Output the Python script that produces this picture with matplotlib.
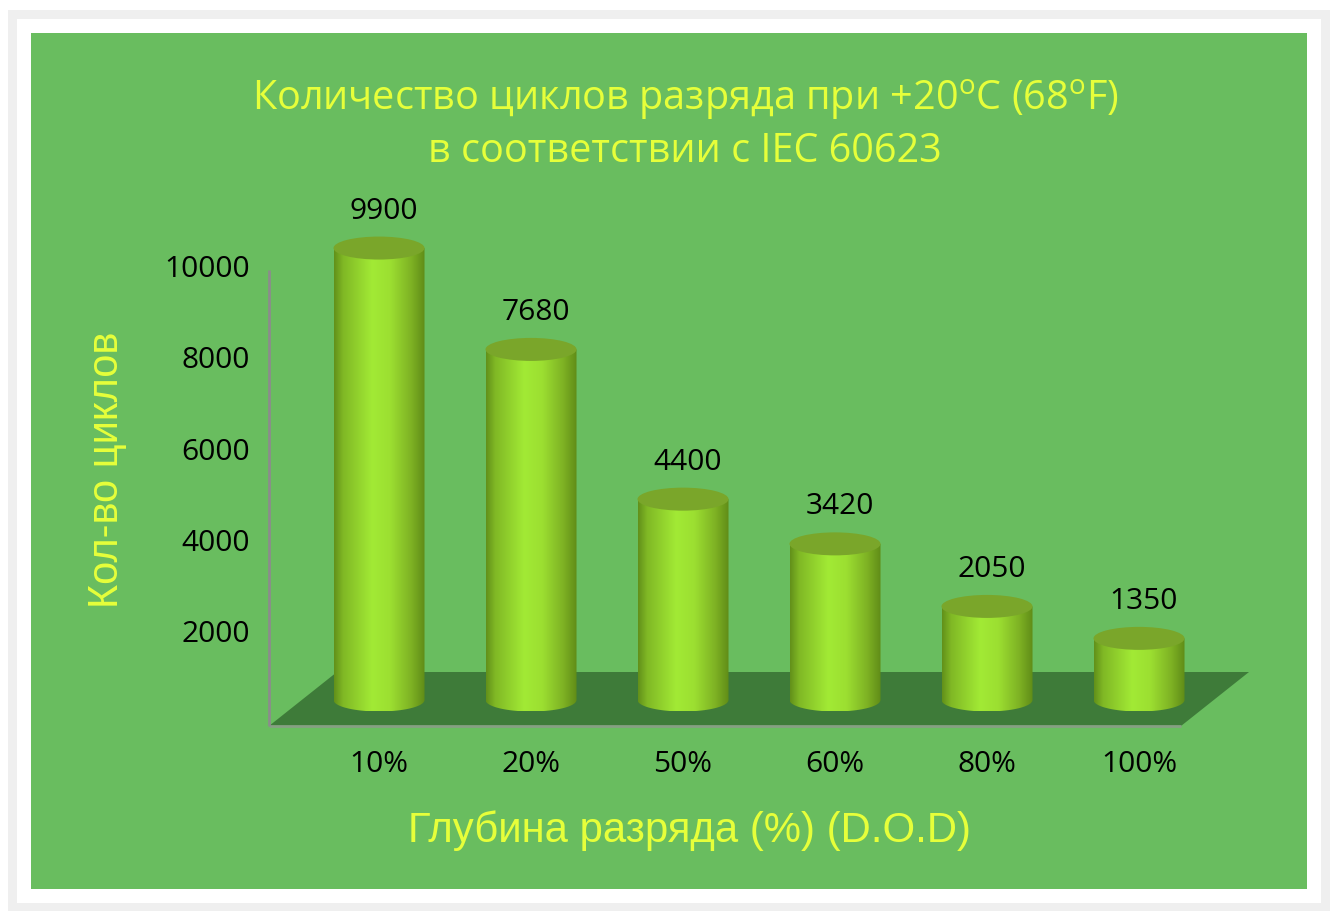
import numpy as np
import matplotlib
matplotlib.use('Agg')
import matplotlib.pyplot as plt
from matplotlib.patches import Rectangle, Ellipse, Polygon, PathPatch
from matplotlib.path import Path
from matplotlib.colors import LinearSegmentedColormap
from matplotlib.transforms import ScaledTranslation

# ---------------- data ----------------
categories = ['10%', '20%', '50%', '60%', '80%', '100%']
cycles = [9900, 7680, 4400, 3420, 2050, 1350]
yticks = [2000, 4000, 6000, 8000, 10000]
title_line1 = 'Количество циклов разряда при +20$^\\mathregular{o}$C (68$^\\mathregular{o}$F)'
title_line2 = 'в соответствии с IEC 60623'
xlabel = 'Глубина разряда (%) (D.O.D)'
ylabel = 'Кол-во циклов'

# ---------------- style ----------------
W, H, DPI = 1337, 921, 100
BG = '#69bd5f'
FLOOR = '#3e7b39'
YELLOW = '#e6ff3a'
TOP = '#7aa62a'
CAL = ['Open Sans', 'DejaVu Sans']
ARIAL = ['Liberation Sans', 'DejaVu Sans']
LABEL_SIZE = 21.5

plt.rcParams['mathtext.fontset'] = 'custom'
plt.rcParams['mathtext.rm'] = 'Open Sans'

fig = plt.figure(figsize=(W / DPI, H / DPI), dpi=DPI)
fig.patch.set_facecolor('white')


def px_rect(x0, y0, x1, y1, **kw):
    return Rectangle((x0 / W, 1 - y1 / H), (x1 - x0) / W, (y1 - y0) / H,
                     transform=fig.transFigure, zorder=-10, **kw)


fig.patches.append(px_rect(8, 10, 1330, 911, facecolor='#efefef', edgecolor='none'))
fig.patches.append(px_rect(17, 19, 1321, 903, facecolor='white', edgecolor='none'))
fig.patches.append(px_rect(31, 33, 1307, 889, facecolor=BG, edgecolor='none'))

# axes spanning whole figure; category index on x, cycles on y
PX_PER_CAT = 152.0
PX_PER_VAL = 0.04565
X0_PX, Y0_PX = 379.0, 700.0
ax = fig.add_axes([0, 0, 1, 1])
ax.set_axis_off()
ax.patch.set_alpha(0)
ax.set_zorder(1)


def dxp(p):
    return p / PX_PER_CAT


def dyp(p):
    return p / PX_PER_VAL


def shifted(dx, dy):
    return ax.transData + ScaledTranslation(dx / DPI, dy / DPI, fig.dpi_scale_trans)


n = len(categories)
left, right = -0.5, n - 0.5
depth_x, depth_front_y, depth_back_y = 34, 26, 28

# floor
floor = Polygon([
    (left - dxp(depth_x), -dyp(depth_front_y)),
    (right - dxp(depth_x), -dyp(depth_front_y)),
    (right + dxp(depth_x), dyp(depth_back_y)),
    (left + dxp(depth_x), dyp(depth_back_y)),
], closed=True, facecolor=FLOOR, edgecolor='none', zorder=1)
ax.add_patch(floor)

# axis lines (front plane)
ax.plot([left - dxp(depth_x), right - dxp(depth_x)],
        [-dyp(depth_front_y), -dyp(depth_front_y)],
        color='#86a082', lw=2, zorder=2, solid_capstyle='butt')
ax.plot([left - dxp(depth_x), left - dxp(depth_x)],
        [-dyp(depth_front_y), max(yticks) - dyp(depth_front_y)],
        color='#8c8c8c', lw=2, zorder=2, solid_capstyle='butt')

# tick labels
for t in yticks:
    ax.text(left, t, str(t), transform=shifted(-depth_x - 19, -depth_front_y),
            ha='right', va='center', fontsize=LABEL_SIZE, family=CAL, color='black')

# cylinders
cmap = LinearSegmentedColormap.from_list('cyl', [
    (0.0, '#62901a'), (0.1, '#80b825'), (0.42, '#a2ea35'),
    (0.62, '#9cdf31'), (0.85, '#7eb224'), (1.0, '#608c17')])
grad = np.linspace(0, 1, 256).reshape(1, -1)
w = 91 / PX_PER_CAT
eh = dyp(23)
theta = np.linspace(np.pi, 2 * np.pi, 60)
for i, v in enumerate(cycles):
    xl, xr = i - w / 2, i + w / 2
    verts = [(xl, v), (xl, 0)]
    verts += [(i + w / 2 * np.cos(t), eh / 2 * np.sin(t)) for t in theta]
    verts += [(xr, v), (xl, v)]
    codes = [Path.MOVETO] + [Path.LINETO] * (len(verts) - 2) + [Path.CLOSEPOLY]
    body = PathPatch(Path(verts, codes), facecolor='none', edgecolor='none', zorder=3)
    ax.add_patch(body)
    im = ax.imshow(grad, extent=(xl, xr, -eh / 2, v), cmap=cmap, aspect='auto',
                   interpolation='bilinear', zorder=3)
    im.set_clip_path(body)
    ax.add_patch(Ellipse((i, v), w, eh, facecolor=TOP, edgecolor='none', zorder=4))
    ax.annotate(str(v), (i, v), xytext=(5, 37), textcoords='offset pixels',
                ha='center', va='center', fontsize=LABEL_SIZE, family=CAL,
                color='black', zorder=5)
    ax.annotate(categories[i], (i, 0), xytext=(0, -64), textcoords='offset pixels',
                ha='center', va='center', fontsize=LABEL_SIZE, family=CAL,
                color='black', zorder=5)

ax.set_xlim(-X0_PX / PX_PER_CAT, (W - X0_PX) / PX_PER_CAT)
ax.set_ylim(-(H - Y0_PX) / PX_PER_VAL, Y0_PX / PX_PER_VAL)

# titles and axis labels
fig.text(685 / W, 1 - 100 / H, title_line1, ha='center', va='center',
         fontsize=28.5, family='Open Sans', color=YELLOW)
fig.text(685 / W, 1 - 152 / H, title_line2, ha='center', va='center',
         fontsize=28.5, family='Open Sans', color=YELLOW)
fig.text(690 / W, 1 - 831 / H, xlabel, ha='center', va='center',
         fontsize=30.2, family=ARIAL, color=YELLOW)
fig.text(107 / W, 1 - 470 / H, ylabel, ha='center', va='center', rotation=90,
         fontsize=30, family=ARIAL, color=YELLOW)

fig.savefig('out.png', dpi=DPI, facecolor='white')
